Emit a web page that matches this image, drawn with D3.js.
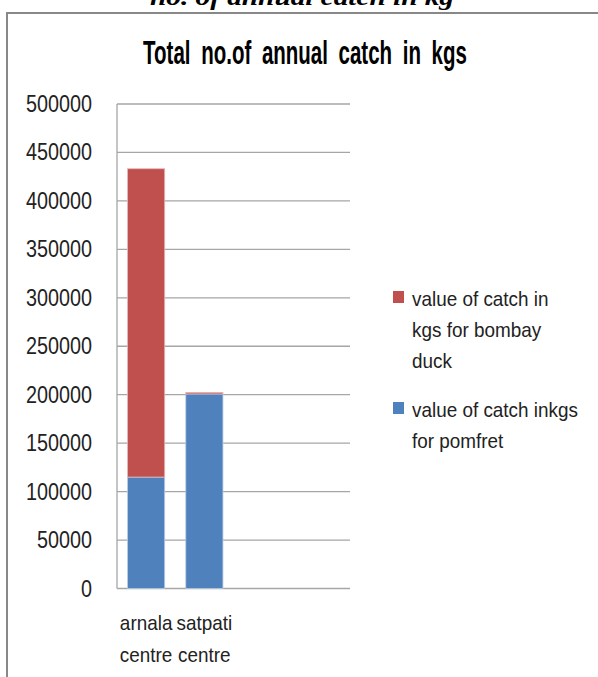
<!DOCTYPE html>
<html>
<head>
<meta charset="utf-8">
<script src="https://cdn.jsdelivr.net/npm/d3@7"></script>
<style>
  html, body { margin: 0; padding: 0; background: #fff; }
  svg { display: block; }
</style>
</head>
<body>
<svg id="chart" width="598" height="677"></svg>
<script>
// Annual catch (kg) at two landing centres, stacked by species
const categories = ["arnala centre", "satpati centre"];
const pomfret = [115000, 200800];
const bombayDuck = [318200, 1600];
const yTicks = [0, 50000, 100000, 150000, 200000, 250000, 300000, 350000, 400000, 450000, 500000];
const seriesNames = ["value of catch in kgs for bombay duck", "value of catch inkgs for pomfret"];
const legendLines = [["value of catch in", "kgs for bombay", "duck"], ["value of catch inkgs", "for pomfret"]];
const seriesColors = { pomfret: "#4F81BD", bombayDuck: "#C0504D" };
const seriesEdges = { pomfret: "#b9cde5", bombayDuck: "#e6b9b8" };

const svg = d3.select("#chart");
const uiFont = "'Liberation Sans', Arial, sans-serif";

// Plot frame
const plot = { left: 117, right: 350, top: 104, bottom: 588.5 };

// Caption above the chart box (partly clipped at the page edge)
const caption = svg.append("text")
  .attr("text-anchor", "middle")
  .attr("font-family", "'Liberation Serif', 'Times New Roman', serif")
  .attr("font-weight", "bold").attr("font-style", "italic")
  .attr("font-size", 24)
  .text("no. of annual catch in kg");
const capW = caption.node().getComputedTextLength();
caption.attr("transform", `translate(302,5) scale(${304 / capW},1)`);

// Chart box
svg.append("rect")
  .attr("x", 7).attr("y", 13)
  .attr("width", 620).attr("height", 700)
  .attr("fill", "none").attr("stroke", "#888").attr("stroke-width", 2);

// Title, narrowed to the width of the plot heading
const title = svg.append("text")
  .attr("text-anchor", "middle")
  .attr("font-family", uiFont).attr("font-weight", "bold")
  .attr("font-size", 33)
  .attr("word-spacing", 8)
  .text("Total no.of annual catch in kgs");
const titleW = title.node().getComputedTextLength();
title.attr("transform", `translate(305,64) scale(${324 / titleW},1)`);

// Scales: the category axis holds four equal slots, the two centres fill the first two
const slot = (plot.right - plot.left) / 4;
const x = d3.scaleBand()
  .domain(categories)
  .range([plot.left, plot.left + slot * categories.length])
  .paddingInner(0.362)
  .paddingOuter(0.181);

const y = d3.scaleLinear().domain([0, 500000]).range([plot.bottom, plot.top]);

// Gridlines
svg.append("g").selectAll("line")
  .data(yTicks)
  .join("line")
  .attr("x1", plot.left).attr("x2", plot.right)
  .attr("y1", d => y(d)).attr("y2", d => y(d))
  .attr("stroke", "#a6a6a6").attr("stroke-width", 1.3);

// Value axis line
svg.append("line")
  .attr("x1", plot.left).attr("x2", plot.left)
  .attr("y1", y(500000)).attr("y2", y(0))
  .attr("stroke", "#a6a6a6").attr("stroke-width", 1.3);

// Narrowed text helper: places text at (px, py) and squeezes it horizontally
function squeezed(g, px, py, str, size, sx, anchor) {
  return g.append("text")
    .attr("transform", `translate(${px},${py}) scale(${sx},1)`)
    .attr("text-anchor", anchor)
    .attr("font-family", uiFont)
    .attr("font-size", size)
    .attr("fill", "#222")
    .text(str);
}

// Value axis labels
const yLabels = svg.append("g");
yTicks.forEach(t => squeezed(yLabels, 92, y(t) + 8, String(t), 23, 0.86, "end"));

// Stacked bars
const stack = d3.stack().keys(["pomfret", "bombayDuck"]);
const rows = categories.map((c, i) => ({ category: c, pomfret: pomfret[i], bombayDuck: bombayDuck[i] }));
const layers = stack(rows);

svg.append("g").selectAll("g")
  .data(layers)
  .join("g")
  .attr("fill", d => seriesColors[d.key])
  .attr("stroke", d => seriesEdges[d.key])
  .attr("stroke-width", 0.8)
  .selectAll("rect")
  .data(d => d)
  .join("rect")
  .attr("x", d => x(d.data.category))
  .attr("width", x.bandwidth())
  .attr("y", d => y(d[1]))
  .attr("height", d => y(d[0]) - y(d[1]));

// Category labels, one word per line
const xLabels = svg.append("g");
categories.forEach(c => {
  const cx = x(c) + x.bandwidth() / 2;
  c.split(" ").forEach((w, k) => squeezed(xLabels, cx, 630 + k * 31.5, w, 21, 0.9, "middle"));
});

// Legend
const legend = svg.append("g");
const legendKeys = ["bombayDuck", "pomfret"];
const legendTops = [291, 402];
legendKeys.forEach((key, i) => {
  legend.append("rect")
    .attr("x", 393).attr("y", legendTops[i])
    .attr("width", 11).attr("height", 12)
    .attr("fill", seriesColors[key]);
  legendLines[i].forEach((line, k) =>
    squeezed(legend, 412, legendTops[i] + 15 + k * 31, line, 21, 0.9, "start"));
});
legend.append("title").text(seriesNames.join(" / "));
</script>
</body>
</html>
